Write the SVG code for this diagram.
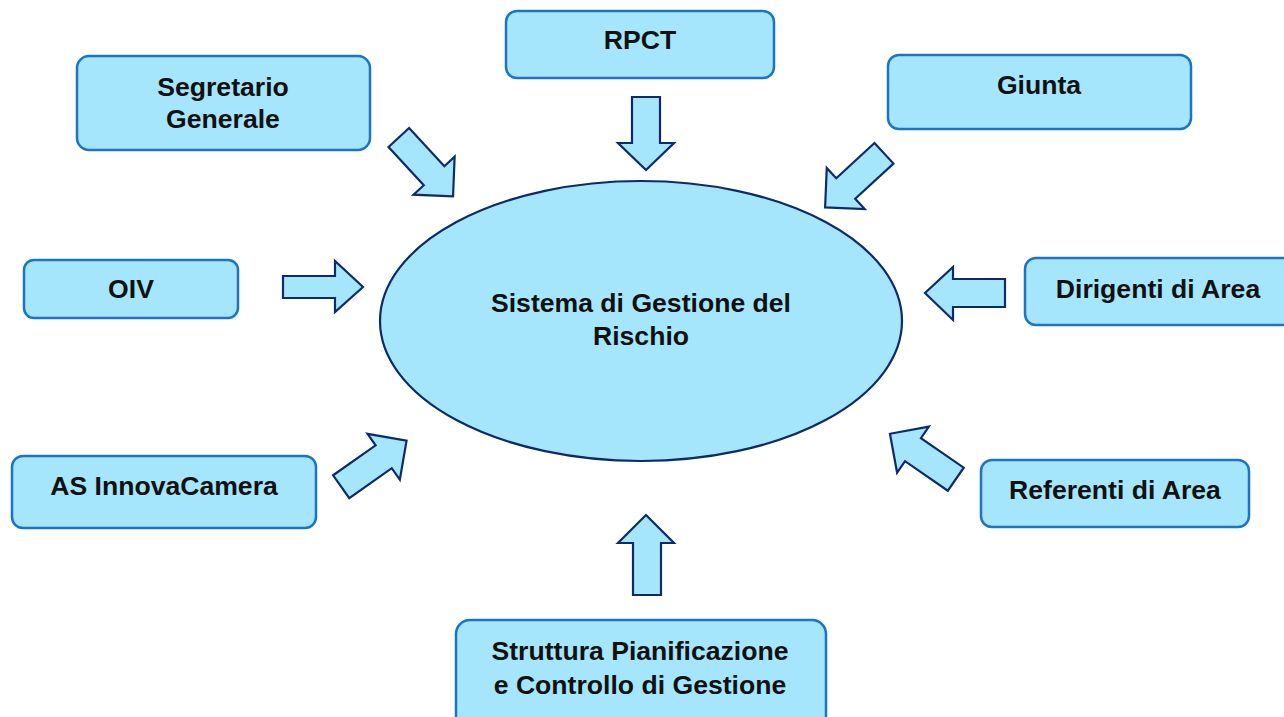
<svg xmlns="http://www.w3.org/2000/svg" xmlns:xlink="http://www.w3.org/1999/xlink" width="1284" height="717" viewBox="0 0 1284 717">
<style>
.box{fill:#a5e6fd;stroke:#1b74c4;stroke-width:2.5}
.ell{fill:#a5e6fd;stroke:#0c2b68;stroke-width:2.2}
.arr{fill:#a5e6fd;stroke:#0c2b68;stroke-width:2.2;stroke-linejoin:miter}
.t{font-family:"Liberation Sans",Arial,sans-serif;font-weight:bold;font-size:26.6px;fill:#111;text-anchor:middle}
</style>
<defs>
<polygon id="arrow" points="0,-14 52,-14 52,-28 80,0 52,28 52,14 0,14"/>
</defs>
<rect width="1284" height="717" fill="#fff"/>
<g id="center">
<ellipse class="ell" cx="641" cy="321" rx="261" ry="140"/>
<text class="t" x="641" y="312">Sistema di Gestione del</text>
<text class="t" x="641" y="345">Rischio</text>
</g>
<g id="rpct">
<rect class="box" x="506" y="11" width="268" height="67" rx="11"/>
<text class="t" x="640" y="49">RPCT</text>
</g>
<g id="segretario">
<rect class="box" x="77" y="56" width="293" height="94" rx="12"/>
<text class="t" x="223" y="96">Segretario</text>
<text class="t" x="223" y="128">Generale</text>
</g>
<g id="giunta">
<rect class="box" x="888" y="55" width="303" height="74" rx="11"/>
<text class="t" x="1039" y="94">Giunta</text>
</g>
<g id="oiv">
<rect class="box" x="24" y="260" width="214" height="58" rx="10"/>
<text class="t" x="131" y="298">OIV</text>
</g>
<g id="dirigenti">
<rect class="box" x="1025" y="258" width="275" height="67" rx="11"/>
<text class="t" x="1158" y="298">Dirigenti di Area</text>
</g>
<g id="as-innovacamera">
<rect class="box" x="12" y="456" width="304" height="72" rx="11"/>
<text class="t" x="164" y="495">AS InnovaCamera</text>
</g>
<g id="referenti">
<rect class="box" x="981" y="460" width="268" height="67" rx="11"/>
<text class="t" x="1115" y="499">Referenti di Area</text>
</g>
<g id="struttura">
<rect class="box" x="456" y="620" width="370" height="110" rx="14"/>
<text class="t" x="640" y="660">Struttura Pianificazione</text>
<text class="t" x="640" y="694">e Controllo di Gestione</text>
</g>
<g id="connectors">
<use xlink:href="#arrow" class="arr" transform="translate(398.8,137.5) rotate(47.3)"/>
<polygon class="arr" points="632,97 660,97 660,143 674,143 646,170 618,143 632,143"/>
<use xlink:href="#arrow" class="arr" transform="translate(884,153.3) rotate(137.4)"/>
<polygon class="arr" points="283,276 335,276 335,261 363,287 335,312 335,298 283,298"/>
<polygon class="arr" points="1005,279 953,279 953,267 925,293 953,320 953,307 1005,307"/>
<use xlink:href="#arrow" class="arr" transform="translate(341.2,486.7) rotate(-35.2)"/>
<use xlink:href="#arrow" class="arr" transform="translate(955.8,479.2) rotate(214.6)"/>
<polygon class="arr" points="633,595 633,543 618,543 646,515 674,543 661,543 661,595"/>
</g>
</svg>
